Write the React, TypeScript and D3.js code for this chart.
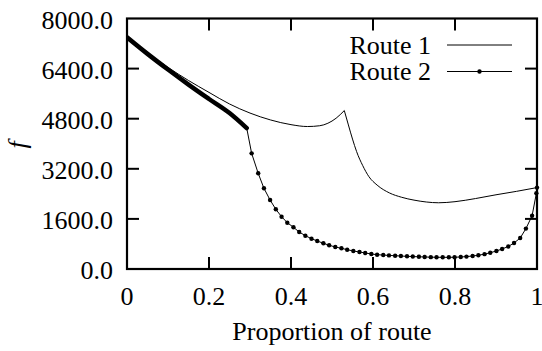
import React from "react";
import * as d3 from "d3";

const xTicks = [0, 0.2, 0.4, 0.6, 0.8, 1];
const xTickLabels = ["0", "0.2", "0.4", "0.6", "0.8", "1"];
const yTicks = [0, 1600, 3200, 4800, 6400, 8000];
const yTickLabels = ["0.0", "1600.0", "3200.0", "4800.0", "6400.0", "8000.0"];
const seriesNames = ["Route 1", "Route 2"];

// route 1: descending branch up to the cusp, then the branch after it
const route1P = [0, 0.05, 0.1, 0.15, 0.2, 0.25, 0.3, 0.35, 0.4, 0.44, 0.47, 0.49, 0.51, 0.53];
const route1F = [7400, 6900, 6440, 6020, 5640, 5270, 4980, 4760, 4610, 4550, 4575, 4655, 4815, 5060];
const route1bP = [0.53, 0.54, 0.55, 0.56, 0.575, 0.59, 0.61, 0.64, 0.67, 0.7, 0.73, 0.76, 0.8, 0.85, 0.9, 0.95, 1.0];
const route1bF = [5060, 4600, 4150, 3750, 3300, 2950, 2680, 2430, 2290, 2200, 2140, 2115, 2150, 2250, 2370, 2480, 2600];

// densely sampled part of route 2 (markers overlap into a thick line)
const route2DenseP = [0, 0.05, 0.1, 0.15, 0.2, 0.25, 0.292];
const route2DenseF = [7400, 6870, 6370, 5890, 5430, 4980, 4500];

// sparsely sampled part of route 2
const route2P = [0.292, 0.304, 0.320, 0.334, 0.349, 0.363, 0.377, 0.391, 0.406, 0.420, 0.435, 0.450, 0.464,
  0.479, 0.493, 0.508, 0.523, 0.537, 0.552, 0.567, 0.581, 0.596, 0.610, 0.625, 0.639, 0.654, 0.668, 0.683,
  0.697, 0.712, 0.726, 0.741, 0.755, 0.770, 0.785, 0.799, 0.814, 0.828, 0.843, 0.857, 0.872, 0.886, 0.901,
  0.915, 0.930, 0.944, 0.959, 0.973, 0.988, 0.9985, 1.0];
const route2F = [4500, 3694, 3056, 2577, 2204, 1906, 1671, 1479, 1332, 1182, 1064, 968, 894,
  821, 757, 703, 661, 616, 575, 543, 511, 479, 457, 445, 434, 424, 414, 405,
  397, 390, 384, 379, 375, 373, 373, 376, 384, 396, 415, 440, 475, 520, 575,
  640, 720, 830, 990, 1290, 1700, 2420, 2600];

const W = 542, H = 351;
const M = { left: 127, right: 537, top: 18.5, bottom: 269 };
const FONT = "Liberation Serif, Tinos, Times New Roman, DejaVu Serif, serif";
const FS = 26;

export default function App() {
  const x = d3.scaleLinear().domain([0, 1]).range([M.left, M.right]);
  const y = d3.scaleLinear().domain([0, 8000]).range([M.bottom, M.top]);
  const line = d3.line<[number, number]>().x(d => x(d[0])).y(d => y(d[1]));
  const smooth = d3.line<[number, number]>().x(d => x(d[0])).y(d => y(d[1])).curve(d3.curveMonotoneX);

  const r1 = route1P.map((p, i) => [p, route1F[i]] as [number, number]);
  const r1b = route1bP.map((p, i) => [p, route1bF[i]] as [number, number]);
  const r2d = route2DenseP.map((p, i) => [p, route2DenseF[i]] as [number, number]);
  const r2 = route2P.map((p, i) => [p, route2F[i]] as [number, number]);
  const tl = 12;

  return (
    <svg width={W} height={H} style={{ position: "absolute", left: 0, top: 0, background: "#fff", fontFamily: FONT, fontSize: FS }}>
      <defs>
        <clipPath id="clip"><rect x={M.left} y={M.top - 2} width={M.right - M.left + 3} height={M.bottom - M.top + 2} /></clipPath>
      </defs>
      {xTicks.slice(1, -1).map((t, i) => (
        <g key={"xt" + i} stroke="#000" strokeWidth={2}>
          <line x1={x(t)} x2={x(t)} y1={M.bottom} y2={M.bottom - tl} />
          <line x1={x(t)} x2={x(t)} y1={M.top} y2={M.top + tl} />
        </g>
      ))}
      {yTicks.slice(1, -1).map((t, i) => (
        <g key={"yt" + i} stroke="#000" strokeWidth={2}>
          <line x1={M.left} x2={M.left + tl} y1={y(t)} y2={y(t)} />
          <line x1={M.right} x2={M.right - tl} y1={y(t)} y2={y(t)} />
        </g>
      ))}
      {xTicks.map((t, i) => (
        <text key={"xl" + i} x={x(t)} y={305} textAnchor="middle">{xTickLabels[i]}</text>
      ))}
      {yTicks.map((t, i) => (
        <text key={"yl" + i} x={113} y={y(t) + 10} textAnchor="end">{yTickLabels[i]}</text>
      ))}
      <text x={(M.left + M.right) / 2} y={340} textAnchor="middle">Proportion of route</text>
      <text transform="translate(26,145) rotate(-90)" textAnchor="middle" fontStyle="italic">f</text>

      <g clipPath="url(#clip)">
        <path d={smooth(r1) || ""} fill="none" stroke="#000" strokeWidth={1} />
        <path d={smooth(r1b) || ""} fill="none" stroke="#000" strokeWidth={1} />
        <path d={smooth(r2d) || ""} fill="none" stroke="#000" strokeWidth={4.5} strokeLinecap="round" />
        <path d={line(r2) || ""} fill="none" stroke="#000" strokeWidth={1} />
        {r2.slice(1).map((d, i) => (
          <circle key={"m" + i} cx={x(d[0])} cy={y(d[1])} r={2.2} fill="#000" />
        ))}
      </g>

      <text x={431} y={54} textAnchor="end">{seriesNames[0]}</text>
      <line x1={447} x2={512} y1={45} y2={45} stroke="#000" strokeWidth={1} />
      <text x={431} y={80} textAnchor="end">{seriesNames[1]}</text>
      <line x1={447} x2={512} y1={71.5} y2={71.5} stroke="#000" strokeWidth={1} />
      <circle cx={479.5} cy={71.5} r={2.2} fill="#000" />

      <rect x={M.left} y={M.top} width={M.right - M.left} height={M.bottom - M.top} fill="none" stroke="#000" strokeWidth={2.2} />
    </svg>
  );
}
